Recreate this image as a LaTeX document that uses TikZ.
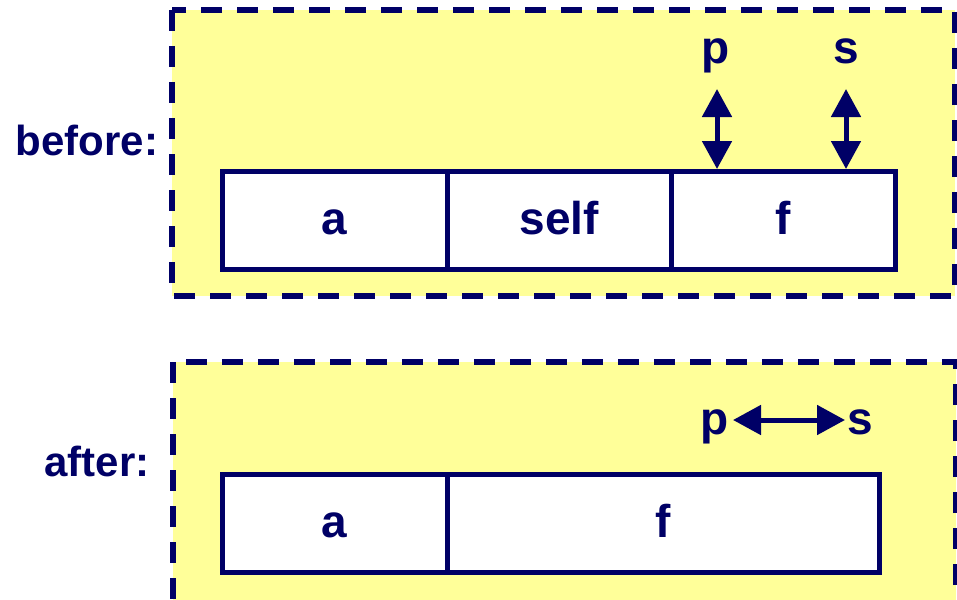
\documentclass[tikz,border=0pt]{standalone}
\usepackage{fontspec}
\setmainfont{Liberation Sans}
\usetikzlibrary{arrows.meta}
\definecolor{navy}{HTML}{000066}
\definecolor{paleyellow}{HTML}{FFFF99}
\tikzset{
  panel/.style={fill=paleyellow, draw=navy, line width=5.5pt, dash pattern=on 21pt off 15pt},
  cell/.style={draw=navy, fill=white, line width=4.5pt, anchor=north west, inner sep=0pt,
    text height=34pt, text depth=6pt, text=navy, font=\fontsize{46}{50}\bfseries\selectfont},
  lbl/.style={text=navy, inner sep=0pt, anchor=base, font=\fontsize{42}{50}\bfseries\selectfont},
  ptr/.style={text=navy, inner sep=0pt, anchor=base, font=\fontsize{46}{50}\bfseries\selectfont},
  dbl/.style={draw=navy, line width=5pt, {Triangle[length=28pt,width=29pt]}-{Triangle[length=28pt,width=29pt]}}
}
\begin{document}
\begin{tikzpicture}[x=1pt,y=-1pt]
\clip (0,0) rectangle (957,599);
\fill[white] (0,0) rectangle (957,599);
% before panel
\path[panel] (172,10) rectangle (955,296);
\node[lbl] (before) at (87,155) {before:};
\node[cell, minimum width=225pt, minimum height=98pt] (a1) at (220,169) {a};
\node[cell, minimum width=224pt, minimum height=98pt] (self1) at (445,169) {self};
\node[cell, minimum width=224pt, minimum height=98pt] (f1) at (669,169) {f};
\node[ptr] (p1) at (716,64) {p};
\node[ptr] (s1) at (846,64) {s};
\coordinate (pa) at (717,89);
\coordinate (sa) at (846,89);
\draw[dbl] (pa) -- (pa |- f1.north);
\draw[dbl] (sa) -- (sa |- f1.north);
% after panel
\path[panel] (173,362) rectangle (956,640);
\node[lbl] (after) at (97,476) {after:};
\node[cell, minimum width=225pt, minimum height=98pt] (a2) at (220,472) {a};
\node[cell, minimum width=432pt, minimum height=98pt] (f2) at (445,472) {f};
\node[ptr] (p2) at (715,434) {p};
\node[ptr] (s2) at (860,434) {s};
\coordinate (pl) at (733,420);
\coordinate (sr) at (845,420);
\draw[dbl] (pl) -- (sr);
\end{tikzpicture}
\end{document}
